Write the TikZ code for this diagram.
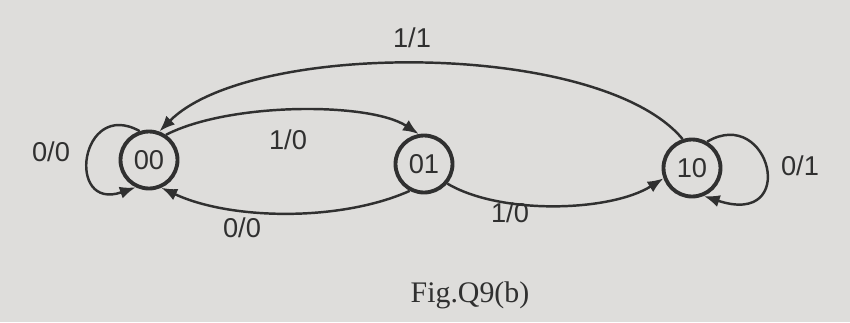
\documentclass[tikz,border=0pt]{standalone}
\usepackage{fontspec}
\setmainfont{Liberation Serif}
\newfontfamily\labfont{Liberation Sans}
\usetikzlibrary{arrows.meta}
\definecolor{paper}{RGB}{222,221,219}
\definecolor{ink}{RGB}{48,48,48}
\tikzset{
  state/.style={circle, draw=ink, line width=2.2pt, minimum size=1.14cm, inner sep=0pt, font=\labfont\fontsize{15.5}{18}\selectfont, text=ink},
  trans/.style={draw=ink, line width=1.4pt, -{Latex[length=9pt,width=7pt]}},
  lbl/.style={font=\labfont\fontsize{15.5}{18}\selectfont, text=ink}
}
\begin{document}
\begin{tikzpicture}[x=0.02cm,y=-0.02cm]
\fill[paper] (0,0) rectangle (850,322);
\useasboundingbox (0,0) rectangle (850,322);
\node[state] (s00) at (149,160) {00};
\node[state] (s01) at (424,164) {01};
\node[state] (s10) at (692,168) {10};
% self loop 00
\draw[trans] (s00.108) .. controls (80,98) and (65,212) .. (s00.244);
% 00 -> 01
\draw[trans] (s00.56) .. controls (230,102) and (370,102) .. (s01.100);
% 01 -> 00
\draw[trans] (s01.242) .. controls (340,222) and (230,220) .. (s00.294);
% 01 -> 10
\draw[trans] (s01.-40) .. controls (500,215) and (610,212) .. (s10.200);
% 10 -> 00
\draw[trans] (s10.108) .. controls (600,40) and (250,40) .. (s00.70);
% self loop 10
\draw[trans] (s10.60) .. controls (770,105) and (800,228) .. (s10.293);
% labels
\node[lbl] (l1) at (51,152) {0/0};
\node[lbl] (l2) at (288,140) {1/0};
\node[lbl] (l3) at (242,228) {0/0};
\node[lbl] (l4) at (510,213) {1/0};
\node[lbl] (l5) at (412,38) {1/1};
\node[lbl] (l6) at (800,166) {0/1};
\node[text=ink, font=\fontsize{17}{20}\selectfont] (cap) at (470,295) {Fig.Q9(b)};
\end{tikzpicture}
\end{document}
